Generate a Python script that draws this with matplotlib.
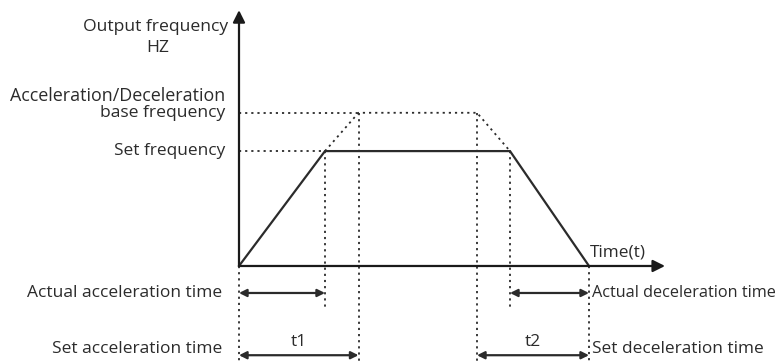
import matplotlib
matplotlib.use("Agg")
import matplotlib.pyplot as plt

# Data (time in arbitrary units, frequency in Hz)
f_set = 30.0          # Set frequency
f_base = 40.0         # Acceleration/Deceleration base frequency
t_acc_actual = 8.6    # Actual acceleration time
t_acc_set = 11.95     # Set acceleration time (t1)
t_dec_set = 11.2      # Set deceleration time (t2)
t_dec_actual = 7.9    # Actual deceleration time
t_end = 35.0          # End of deceleration

t_dec_start_actual = t_end - t_dec_actual
t_dec_start_set = t_end - t_dec_set

y_labels = ["Output frequency", "HZ", "Acceleration/Deceleration", "base frequency", "Set frequency"]
time_labels = ["Actual acceleration time", "Set acceleration time",
               "Actual deceleration time", "Set deceleration time"]

plt.rcParams['font.family'] = ['Open Sans', 'DejaVu Sans']

fig = plt.figure(figsize=(7.81, 3.62), dpi=100)
ax = fig.add_axes([0, 0, 1, 1])
ax.set_xlim(-23.9, 54.2)
ax.set_ylim(-25.07, 69.45)
ax.axis('off')

lc = '#2b2b2b'
dot = dict(color=lc, lw=1.3, ls=(0, (1.2, 2.2)))
fs = 12.4

# axes with arrows
ax.annotate('', xy=(0, 66.8), xytext=(0, 0),
            arrowprops=dict(arrowstyle='-|>', color='#1a1a1a', lw=1.6, mutation_scale=18, shrinkA=0, shrinkB=0))
ax.annotate('', xy=(42.6, 0), xytext=(0, 0),
            arrowprops=dict(arrowstyle='-|>', color='#1a1a1a', lw=1.6, mutation_scale=18, shrinkA=0, shrinkB=0))

# actual frequency profile
ax.plot([0, t_acc_actual, t_dec_start_actual, t_end], [0, f_set, f_set, 0], color=lc, lw=1.6, solid_joinstyle='miter')

# set (base) profile dashed
ax.plot([t_acc_actual, t_acc_set, t_dec_start_set, t_dec_start_actual],
        [f_set, f_base, f_base, f_set], **dot)
ax.plot([0, t_acc_set], [f_base, f_base], **dot)
ax.plot([0, t_acc_actual], [f_set, f_set], **dot)

# vertical dotted guides
y_bot = -25.07
y_act = -7.05
y_setarr = -23.3
y_settxt = -21.7
ax.plot([t_acc_actual, t_acc_actual], [f_set, -11.0], **dot)
ax.plot([t_dec_start_actual, t_dec_start_actual], [f_set, -11.0], **dot)
ax.plot([t_acc_set, t_acc_set], [f_base, y_bot], **dot)
ax.plot([t_dec_start_set, t_dec_start_set], [f_base, y_bot], **dot)
ax.plot([0, 0], [0, y_bot], **dot)
ax.plot([t_end, t_end], [0, y_bot], **dot)

# dimension arrows
def dim(x0, x1, y):
    ax.annotate('', xy=(x1, y), xytext=(x0, y),
                arrowprops=dict(arrowstyle='<|-|>', color=lc, lw=1.6, mutation_scale=11,
                                shrinkA=0, shrinkB=0))

dim(0, t_acc_actual, y_act)
dim(0, t_acc_set, y_setarr)
dim(t_dec_start_actual, t_end, y_act)
dim(t_dec_start_set, t_end, y_setarr)

ax.text(t_acc_set / 2, -19.8, 't1', ha='center', va='center', fontsize=fs, color=lc)
ax.text((t_dec_start_set + t_end) / 2, -19.8, 't2', ha='center', va='center', fontsize=fs, color=lc)

# y labels
ax.text(-1.1, 62.4, y_labels[0], ha='right', va='center', fontsize=12.6, color=lc)
ax.text(-8.1, 56.9, y_labels[1], ha='center', va='center', fontsize=12.6, color=lc)
ax.text(-1.4, 44.3, y_labels[2], ha='right', va='center', fontsize=12.9, color=lc)
ax.text(-1.4, f_base, y_labels[3], ha='right', va='center', fontsize=12.6, color=lc)
ax.text(-1.4, f_set, y_labels[4], ha='right', va='center', fontsize=fs, color=lc)

ax.text(t_end + 0.1, 1.5, 'Time(t)', ha='left', va='bottom', fontsize=fs, color=lc)

ax.text(-1.7, y_act, time_labels[0], ha='right', va='center', fontsize=12.5, color=lc)
ax.text(-1.7, y_settxt, time_labels[1], ha='right', va='center', fontsize=12.5, color=lc)
ax.text(t_end + 0.3, y_act, time_labels[2], ha='left', va='center', fontsize=11.7, color=lc)
ax.text(t_end + 0.3, y_settxt, time_labels[3], ha='left', va='center', fontsize=12.4, color=lc)

fig.savefig('out.png', dpi=100, facecolor='white')
